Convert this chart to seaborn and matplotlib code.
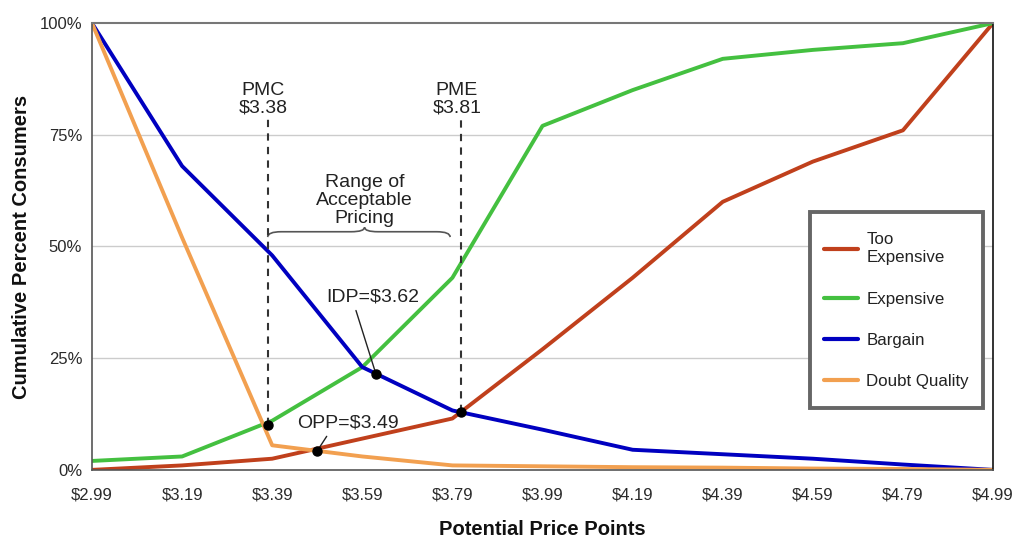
import numpy as np
import pandas as pd
import matplotlib
matplotlib.use("Agg")
import matplotlib.pyplot as plt
import seaborn as sns
from matplotlib.path import Path
from matplotlib.patches import PathPatch, Rectangle
from matplotlib.lines import Line2D

# Price points surveyed (USD)
prices = [2.99, 3.19, 3.39, 3.59, 3.79, 3.99, 4.19, 4.39, 4.59, 4.79, 4.99]
price_labels = ["$2.99", "$3.19", "$3.39", "$3.59", "$3.79", "$3.99",
                "$4.19", "$4.39", "$4.59", "$4.79", "$4.99"]

# Cumulative percent of consumers per response
too_expensive = [0, 1, 2.5, 7, 11.5, 27, 43, 60, 69, 76, 100]
expensive = [2, 3, 11, 23, 43, 77, 85, 92, 94, 95.5, 100]
bargain = [100, 68, 48, 23, 13.3, 9, 4.5, 3.5, 2.5, 1.2, 0]
doubt_quality = [100, 52, 5.5, 3, 1, 0.8, 0.6, 0.5, 0.3, 0.2, 0]

series_names = ["Too\nExpensive", "Expensive", "Bargain", "Doubt Quality"]
series_colors = ["#C0401C", "#44C040", "#0000C0", "#F2A050"]

# Key price points
pmc, pme, idp, opp = 3.38, 3.81, 3.62, 3.49

df = pd.concat([
    pd.DataFrame({"price": prices, "pct": vals, "series": name})
    for name, vals in zip(series_names,
                          [too_expensive, expensive, bargain, doubt_quality])
])

sns.set_theme(style="white")
plt.rcParams["font.family"] = ["Liberation Sans", "DejaVu Sans"]

fig = plt.figure(figsize=(10.13, 5.37), dpi=100)
ax = fig.add_axes([0.0908, 0.125, 0.8895, 0.832])

sns.lineplot(data=df, x="price", y="pct", hue="series",
             palette=dict(zip(series_names, series_colors)),
             linewidth=2.8, ax=ax, sort=False, legend=False)

ax.set_xlim(prices[0], prices[-1])
ax.set_ylim(0, 100)
ax.set_xticks(prices)
ax.set_xticklabels(price_labels)
ax.set_yticks([0, 25, 50, 75, 100])
ax.set_yticklabels(["0%", "25%", "50%", "75%", "100%"])
ax.tick_params(axis="both", direction="inout", length=6, width=1,
               color="#555555", labelsize=12, labelcolor="#2a2a2a")
ax.tick_params(axis="x", pad=10)
ax.tick_params(axis="y", pad=4)
for y in [25, 50, 75]:
    ax.axhline(y, color="#CCCCCC", linewidth=1, zorder=0)

for side in ["left", "bottom"]:
    ax.spines[side].set_color("#555555")
    ax.spines[side].set_linewidth(1.2)
ax.spines["top"].set_color("#777777")
ax.spines["top"].set_linewidth(1.5)
ax.spines["right"].set_color("#111111")
ax.spines["right"].set_linewidth(1.2)

ax.set_xlabel("Potential Price Points", fontsize=14.5, fontweight="bold",
              labelpad=12, color="#111111")
ax.set_ylabel("Cumulative Percent Consumers", fontsize=14.5, fontweight="bold",
              labelpad=6, color="#111111")

# Intersection points
pmc_y = np.interp(pmc, prices, expensive) - 0.5
pme_y = np.interp(pme, prices, bargain)
idp_y = np.interp(idp, prices, bargain)
opp_y = np.interp(opp, prices, doubt_quality)

for px, py in [(pmc, pmc_y), (pme, pme_y), (idp, idp_y), (opp, opp_y)]:
    ax.plot(px, py, "o", color="black", markersize=6.5, zorder=5)

# Dashed guides for the acceptable range
for px, py, name in [(pmc, pmc_y, "PMC"), (pme, pme_y, "PME")]:
    ax.plot([px, px], [py, 78.5], linestyle=(0, (3.5, 3)), color="#333333",
            linewidth=1.5, zorder=4)
    ax.text(px - 0.01, 80.0, f"{name}\n${px:.2f}", ha="center",
            va="baseline", fontsize=14, color="#222222", linespacing=1.02)

mid = (pmc + pme) / 2
ax.text(mid, 55.2, "Range of\nAcceptable\nPricing", ha="center",
        va="baseline", fontsize=14, color="#222222", linespacing=1.1)

# Curly brace spanning PMC..PME
bx0, bx1 = pmc + 0.0, pme - 0.025
yb, h = 52.3, 1.0
verts = [(bx0, yb - 0.2), (bx0, yb + h), (bx0 + 0.03, yb + h),
         (mid - 0.03, yb + h), (mid, yb + h), (mid, yb + 2 * h),
         (mid, yb + h), (mid + 0.03, yb + h),
         (bx1 - 0.03, yb + h), (bx1, yb + h), (bx1, yb - 0.2)]
codes = [Path.MOVETO, Path.CURVE3, Path.CURVE3, Path.LINETO, Path.CURVE3,
         Path.CURVE3, Path.CURVE3, Path.CURVE3, Path.LINETO, Path.CURVE3,
         Path.CURVE3]
ax.add_patch(PathPatch(Path(verts, codes), facecolor="none",
                       edgecolor="#555555", linewidth=1.2))

# Point labels
ax.annotate(f"IDP=${idp:.2f}", xy=(idp, idp_y), xytext=(3.614, 37.6),
            ha="center", va="baseline", fontsize=14, color="#222222",
            arrowprops=dict(arrowstyle="-", color="#222222", linewidth=1,
                            shrinkA=1, shrinkB=2, relpos=(0.3, 0)))
ax.annotate(f"OPP=${opp:.2f}", xy=(opp, opp_y), xytext=(3.558, 9.4),
            ha="center", va="baseline", fontsize=14, color="#222222",
            arrowprops=dict(arrowstyle="-", color="#222222", linewidth=1,
                            shrinkA=1, shrinkB=2, relpos=(0.32, 0)))

# Legend with a separately drawn box
box = Rectangle((0.797, 0.139), 0.192, 0.438, transform=ax.transAxes,
                facecolor="white", edgecolor="#666666", linewidth=2.8,
                zorder=6)
ax.add_patch(box)
handles = [Line2D([0], [0], color=c, linewidth=3) for c in series_colors]
leg = ax.legend(handles, series_names, loc="center",
                bbox_to_anchor=(0.893, 0.356), fontsize=12.2, frameon=False,
                handlelength=2.0, handletextpad=0.5,
                labelspacing=1.55, borderpad=0.5, borderaxespad=0)
leg.set_zorder(7)
for txt in leg.get_texts():
    txt.set_color("#222222")
    txt.set_linespacing(1.25)

fig.savefig("out.png", dpi=100)
